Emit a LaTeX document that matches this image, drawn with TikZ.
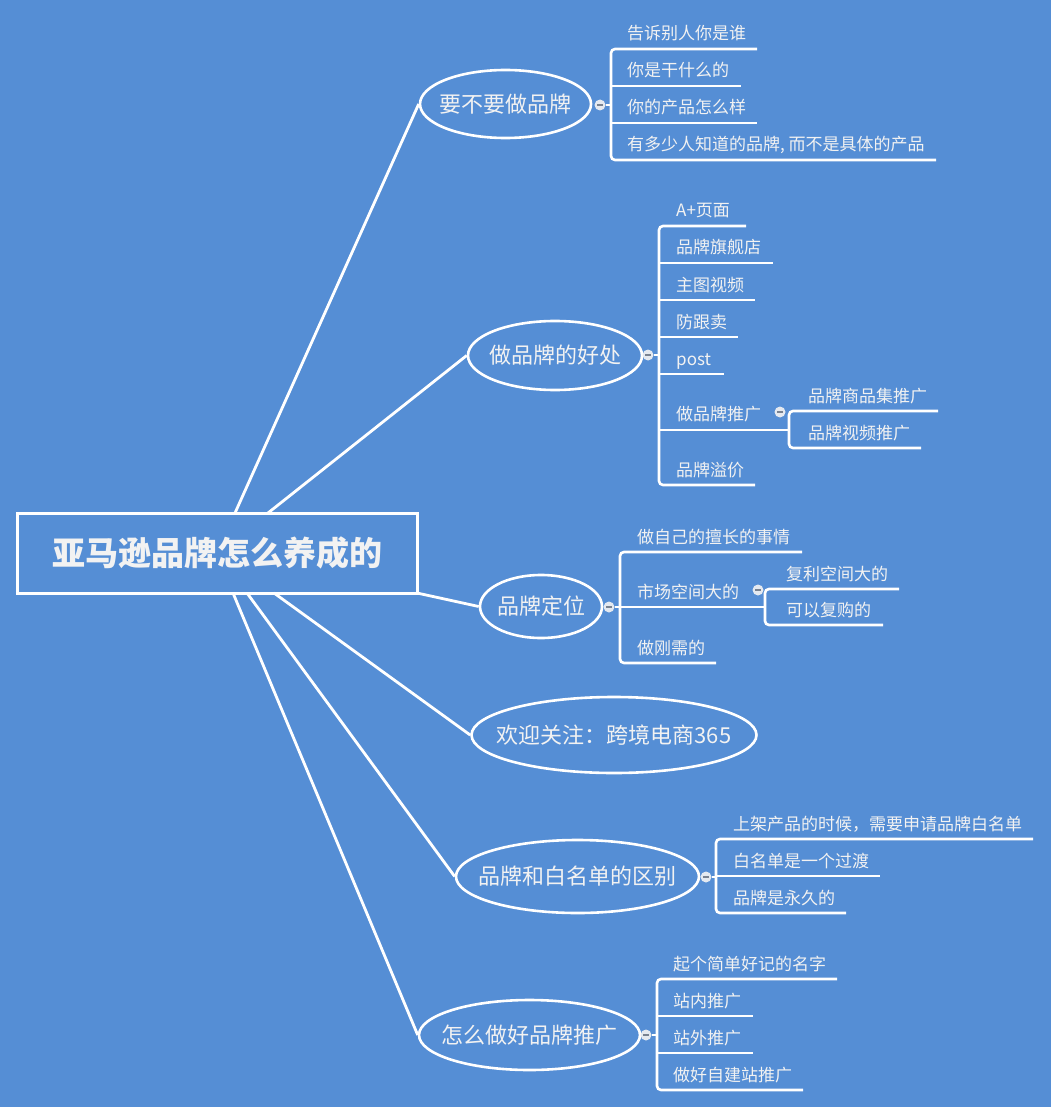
\documentclass[tikz,border=0pt]{standalone}
\usepackage{fontspec}
\setmainfont{Noto Sans CJK SC}
\usetikzlibrary{shapes.geometric}
\definecolor{bg}{RGB}{85,142,213}
\definecolor{txt}{RGB}{242,242,242}
\definecolor{knobfill}{RGB}{228,233,240}
\definecolor{knobdash}{RGB}{120,130,145}
\begin{document}
\begin{tikzpicture}[x=1pt,y=-1pt,
  link/.style={draw=white,line width=2.8pt},
  topic/.style={ellipse,draw=white,line width=2.6pt,inner sep=0pt},
  lbl/.style={text=txt,inner sep=0pt,font=\fontsize{22}{26}\selectfont},
  leaf/.style={anchor=base west,inner sep=0pt,text=txt,font=\fontsize{17}{20}\selectfont},
  brk/.style={draw=white,line width=2.6pt,rounded corners=4pt},
  uline/.style={draw=white,line width=2.6pt},
  knob/.style={circle,fill=knobfill,minimum size=11pt,inner sep=0pt,
    path picture={\draw[knobdash,line width=1.3pt]
      ([xshift=-3pt]path picture bounding box.center) --
      ([xshift=3pt]path picture bounding box.center);}},
]
\useasboundingbox (0,0) rectangle (1051,1107);
\fill[bg] (0,0) rectangle (1051,1107);

% root
\node[draw=white,line width=3pt,minimum width=400pt,minimum height=80pt,inner sep=0pt,
  text=txt,font=\fontsize{33}{38}\selectfont\bfseries] (root) at (217.5,553) {亚马逊品牌怎么养成的};

% topics
\node[topic,minimum width=171pt,minimum height=68pt,label={[lbl]center:要不要做品牌}] (e1) at (505.5,104) {};
\node[topic,minimum width=174pt,minimum height=69pt,label={[lbl]center:做品牌的好处}] (e2) at (555,355.5) {};
\node[topic,minimum width=122pt,minimum height=63pt,label={[lbl]center:品牌定位}] (e3) at (541,606.5) {};
\node[topic,minimum width=285pt,minimum height=76pt,label={[lbl]center:欢迎关注：跨境电商365}] (e4) at (614,735) {};
\node[topic,minimum width=243pt,minimum height=73pt,label={[lbl]center:品牌和白名单的区别}] (e5) at (577.5,876.5) {};
\node[topic,minimum width=221pt,minimum height=70pt,label={[lbl]center:怎么做好品牌推广}] (e6) at (529.5,1035) {};

% root links
\coordinate (r1) at (235,513);
\coordinate (r2) at (268,513);
\coordinate (r3) at (417,593);
\coordinate (r4) at (274,593);
\coordinate (r5) at (247,593);
\coordinate (r6) at (233,593);
\draw[link] (r1) -- (e1.west);
\draw[link] (r2) -- (e2.west);
\draw[link] (r3) -- (e3.west);
\draw[link] (r4) -- (e4.west);
\draw[link] (r5) -- (e5.west);
\draw[link] (r6) -- (e6.west);

% ---------- group 1
\node[knob] (k1) at (600,105) {};
\coordinate (b1) at (611,105);
\draw[uline] (k1.east) -- (b1);
\draw[brk] (757,49) -- (611,49) -- (611,160) -- (936,160);
\draw[uline] (611,86) -- (741,86);
\draw[uline] (611,123) -- (757,123);
\node[leaf] (a1) at (627,40) {告诉别人你是谁};
\node[leaf] (a2) at (627,77) {你是干什么的};
\node[leaf] (a3) at (627,114) {你的产品怎么样};
\node[leaf] (a4) at (627,151) {有多少人知道的品牌, 而不是具体的产品};

% ---------- group 2
\node[knob] (k2) at (648,355) {};
\coordinate (b2) at (659,355);
\draw[uline] (k2.east) -- (b2);
\draw[brk] (746,226) -- (659,226) -- (659,485) -- (755,485);
\draw[uline] (659,263) -- (773,263);
\draw[uline] (659,300) -- (755,300);
\draw[uline] (659,337) -- (738,337);
\draw[uline] (659,374) -- (724,374);
\draw[uline] (659,430) -- (789,430);
\node[leaf] (c1) at (676,217) {A+页面};
\node[leaf] (c2) at (676,254) {品牌旗舰店};
\node[leaf] (c3) at (676,291) {主图视频};
\node[leaf] (c4) at (676,328) {防跟卖};
\node[leaf] (c5) at (676,365) {post};
\node[leaf] (c6) at (676,420) {做品牌推广};
\node[leaf] (c7) at (676,476) {品牌溢价};
% sub
\node[knob] (k2s) at (780,412) {};
\draw[brk] (938,411) -- (789,411) -- (789,448) -- (921,448);
\node[leaf] (d1) at (808,402) {品牌商品集推广};
\node[leaf] (d2) at (808,439) {品牌视频推广};

% ---------- group 3
\node[knob] (k3) at (609,607) {};
\coordinate (b3) at (620,607);
\draw[uline] (k3.east) -- (b3);
\draw[brk] (802,552) -- (620,552) -- (620,663) -- (716,663);
\draw[uline] (620,607) -- (765,607);
\node[leaf] (f1) at (637,543) {做自己的擅长的事情};
\node[leaf] (f2) at (637,598) {市场空间大的};
\node[leaf] (f3) at (637,654) {做刚需的};
% sub
\node[knob] (k3s) at (758,590) {};
\draw[brk] (899,589) -- (765,589) -- (765,625) -- (883,625);
\node[leaf] (g1) at (786,580) {复利空间大的};
\node[leaf] (g2) at (786,616) {可以复购的};

% ---------- group 5
\node[knob] (k5) at (706,877) {};
\coordinate (b5) at (716,877);
\draw[uline] (k5.east) -- (b5);
\draw[brk] (1033,839) -- (716,839) -- (716,913) -- (846,913);
\draw[uline] (716,876) -- (880,876);
\node[leaf] (h1) at (733,830) {上架产品的时候，需要申请品牌白名单};
\node[leaf] (h2) at (733,867) {白名单是一个过渡};
\node[leaf] (h3) at (733,904) {品牌是永久的};

% ---------- group 6
\node[knob] (k6) at (646,1035) {};
\coordinate (b6) at (657,1035);
\draw[uline] (k6.east) -- (b6);
\draw[brk] (837,979) -- (657,979) -- (657,1090) -- (803,1090);
\draw[uline] (657,1016) -- (753,1016);
\draw[uline] (657,1053) -- (753,1053);
\node[leaf] (m1) at (673,970) {起个简单好记的名字};
\node[leaf] (m2) at (673,1007) {站内推广};
\node[leaf] (m3) at (673,1044) {站外推广};
\node[leaf] (m4) at (673,1081) {做好自建站推广};
\end{tikzpicture}
\end{document}
